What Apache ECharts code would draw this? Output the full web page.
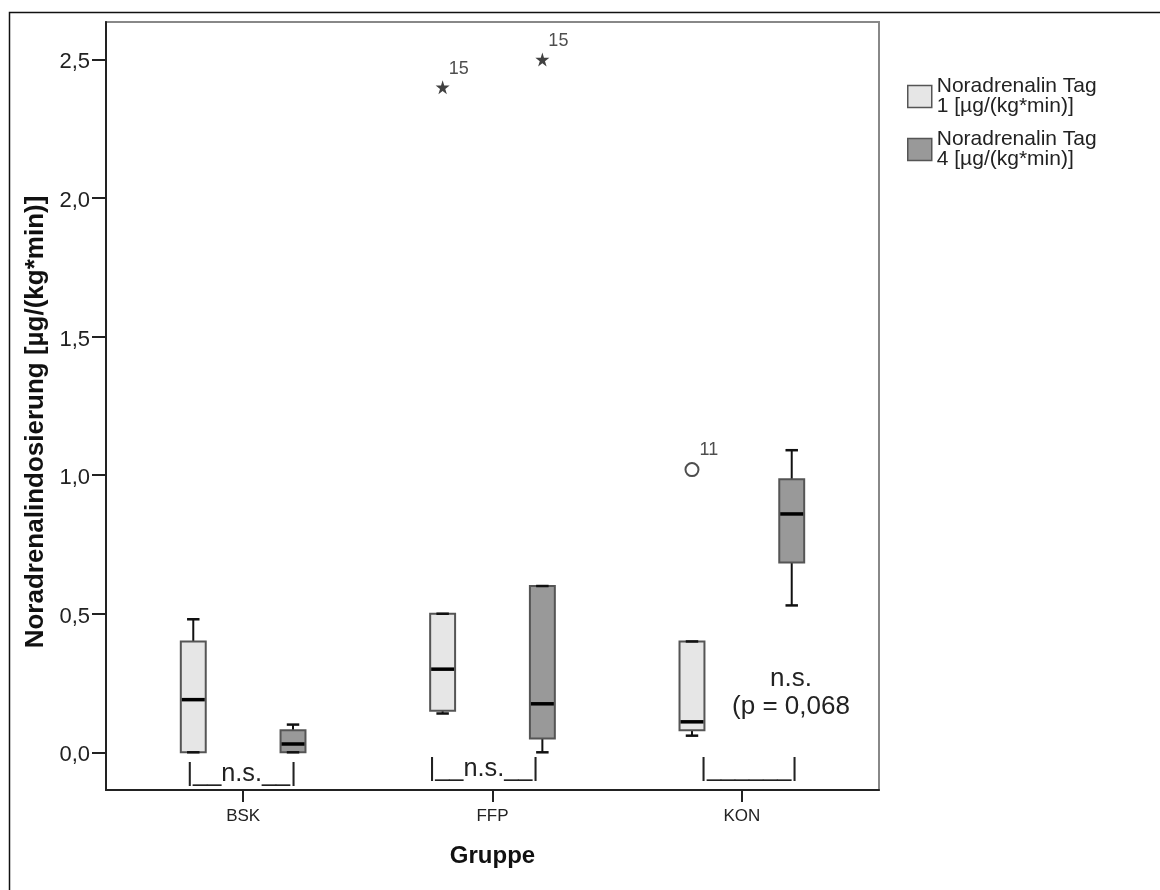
<!DOCTYPE html>
<html>
<head>
<meta charset="utf-8">
<script src="https://cdn.jsdelivr.net/npm/echarts@6/dist/echarts.min.js"></script>
<style>
  html, body { margin: 0; padding: 0; background: #fff; }
  #chart { width: 1160px; height: 890px; }
</style>
</head>
<body>
<div id="chart"></div>
<script>
// ---- data ----
const categories = ['BSK', 'FFP', 'KON'];
const seriesNames = ['Noradrenalin Tag 1 [µg/(kg*min)]', 'Noradrenalin Tag 4 [µg/(kg*min)]'];
// five-number summaries per group: [min, q1, median, q3, max]
const day1Stats = [[0.00, 0.00, 0.19, 0.40, 0.48], [0.14, 0.15, 0.30, 0.50, 0.50], [0.06, 0.08, 0.11, 0.40, 0.40]];
const day4Stats = [[0.00, 0.00, 0.03, 0.08, 0.10], [0.00, 0.05, 0.175, 0.60, 0.60], [0.53, 0.685, 0.86, 0.985, 1.09]];
// outliers: [groupIndex, value, case number]
const day1Outliers = [[2, 1.02, '11']];
const day1Extremes = [[1, 2.40, '15']];
const day4Extremes = [[1, 2.50, '15']];
const yTicks = [0, 0.5, 1.0, 1.5, 2.0, 2.5];
const xTicks = [0, 1, 2];
// text annotations
const annotationText = ['|__n.s.__|', '|__n.s.__|', '|______|', 'n.s.\n(p = 0,068'];
const annotationX = [-0.006, 0.965, 2.029, 2.197];
const annotationY = [-0.079, -0.059, -0.062, 0.213];

// ---- styling / layout ----
const FONT = "'Liberation Sans', Arial, Helvetica, sans-serif";
const fills = ['#e6e6e6', '#999999'];
const offsets = [-0.2, 0.2];
const boxWidth = 0.1;

function boxSeries(name, stats, offset, fill) {
  return {
    type: 'custom',
    name: name,
    itemStyle: { color: fill, borderColor: '#555', borderWidth: 1.5 },
    data: stats.map((s, i) => [i].concat(s)),
    encode: { x: 0, y: [1, 2, 3, 4, 5] },
    silent: true,
    renderItem: function (params, api) {
      const x = api.value(0) + offset;
      const p = [1, 2, 3, 4, 5].map(d => api.coord([x, api.value(d)]));
      const lo = p[0][1], q1 = p[1][1], md = p[2][1], q3 = p[3][1], hi = p[4][1];
      const cx = p[0][0];
      const w = api.size([boxWidth, 0])[0];
      const half = w / 2, cap = w / 4;
      const ws = { stroke: '#111', lineWidth: 2 };
      return {
        type: 'group',
        children: [
          { type: 'line', shape: { x1: cx, y1: hi, x2: cx, y2: q3 }, style: ws },
          { type: 'line', shape: { x1: cx, y1: q1, x2: cx, y2: lo }, style: ws },
          { type: 'rect', shape: { x: cx - half, y: q3, width: w, height: q1 - q3 },
            style: { fill: fill, stroke: '#555', lineWidth: 2 } },
          { type: 'line', shape: { x1: cx - half + 1, y1: md, x2: cx + half - 1, y2: md },
            style: { stroke: '#000', lineWidth: 3.5 } },
          { type: 'line', shape: { x1: cx - cap, y1: hi, x2: cx + cap, y2: hi }, style: { stroke: '#111', lineWidth: 2.5 } },
          { type: 'line', shape: { x1: cx - cap, y1: lo, x2: cx + cap, y2: lo }, style: { stroke: '#111', lineWidth: 2.5 } }
        ]
      };
    }
  };
}

const STAR = 'path://M50,0 L61,35 L98,35 L68,57 L79,91 L50,70 L21,91 L32,57 L2,35 L39,35 Z';

function outlierSeries(name, list, offset, symbol, size, style, labelPos) {
  return {
    type: 'scatter',
    name: name,
    symbol: symbol,
    symbolSize: size,
    itemStyle: style,
    silent: true,
    z: 5,
    data: list.map(o => ({ value: [o[0] + offset, o[1]], name: o[2] })),
    label: {
      show: true, formatter: '{b}', position: labelPos, align: 'left', verticalAlign: 'middle',
      fontFamily: FONT, fontSize: 18, color: '#222'
    }
  };
}

const chart = echarts.init(document.getElementById('chart'), null, { renderer: 'canvas' });

const option = {
  backgroundColor: '#fff',
  animation: false,
  graphic: [{
    type: 'rect', left: 7, top: 10, z: -10, silent: true,
    shape: { x: 0, y: 0, width: 1200, height: 1000 },
    style: { fill: 'none', stroke: '#111', lineWidth: 1.5 }
  }],
  legend: {
    orient: 'vertical', left: 907, top: 76, padding: 0,
    itemWidth: 24, itemHeight: 22, itemGap: 12,
    selectedMode: false,
    textStyle: { fontFamily: FONT, fontSize: 21, lineHeight: 20, color: '#222' },
    formatter: n => n.replace('Tag ', 'Tag\n'),
    data: seriesNames.map((n, i) => ({
      name: n, icon: 'rect',
      itemStyle: { color: fills[i], borderColor: '#555', borderWidth: 1.5 }
    }))
  },
  grid: {
    left: 106, top: 22, width: 773, height: 768,
    show: true, borderColor: '#888', borderWidth: 2, backgroundColor: 'transparent'
  },
  xAxis: {
    type: 'value', min: -0.55, max: 2.55,
    name: 'Gruppe', nameLocation: 'middle', nameGap: 54,
    nameTextStyle: { fontFamily: FONT, fontSize: 24, fontWeight: 'bold', color: '#111' },
    axisLine: { show: true, onZero: false, lineStyle: { color: '#222', width: 2 } },
    axisTick: { show: true, length: 12, customValues: xTicks, lineStyle: { color: '#222', width: 2 } },
    axisLabel: {
      customValues: xTicks, margin: 18, formatter: v => categories[Math.round(v)],
      fontFamily: FONT, fontSize: 17, color: '#222'
    },
    splitLine: { show: false }
  },
  yAxis: {
    type: 'value', min: -0.136, max: 2.635,
    name: 'Noradrenalindosierung [µg/(kg*min)]', nameLocation: 'middle', nameGap: 54,
    nameTextStyle: { fontFamily: FONT, fontSize: 26, fontWeight: 'bold', color: '#111', padding: [0, 32, 0, 0] },
    axisLine: { show: true, onZero: false, lineStyle: { color: '#222', width: 2 } },
    axisTick: { show: true, length: 14, customValues: yTicks, lineStyle: { color: '#222', width: 2 } },
    axisLabel: {
      customValues: yTicks, margin: 16, formatter: v => v.toFixed(1).replace('.', ','),
      fontFamily: FONT, fontSize: 22, color: '#222', verticalAlign: 'top', lineHeight: 6
    },
    splitLine: { show: false }
  },
  series: [
    boxSeries(seriesNames[0], day1Stats, offsets[0], fills[0]),
    boxSeries(seriesNames[1], day4Stats, offsets[1], fills[1]),
    outlierSeries('Ausreißer Tag 1', day1Outliers, offsets[0], 'circle', 13,
      { color: '#fff', borderColor: '#222', borderWidth: 2 }, [15, -12]),
    outlierSeries('Extremwerte Tag 1', day1Extremes, offsets[0], STAR, 14,
      { color: '#111' }, [13, -11]),
    outlierSeries('Extremwerte Tag 4', day4Extremes, offsets[1], STAR, 14,
      { color: '#111' }, [13, -11]),
    {
      type: 'custom', name: 'Annotationen', silent: true, z: 6,
      data: annotationText.map((t, i) => [annotationX[i], annotationY[i], i]),
      encode: { x: 0, y: 1 },
      renderItem: function (params, api) {
        const pt = api.coord([api.value(0), api.value(1)]);
        const idx = api.value(2);
        const multi = annotationText[idx].indexOf('\n') >= 0;
        return {
          type: 'text', x: pt[0], y: pt[1],
          style: {
            text: annotationText[idx], fill: '#222', fontFamily: FONT,
            fontSize: multi ? 26 : 25.3, lineHeight: multi ? 28 : 26,
            align: 'center', verticalAlign: 'middle'
          }
        };
      }
    }
  ]
};

chart.setOption(option);
</script>
</body>
</html>
